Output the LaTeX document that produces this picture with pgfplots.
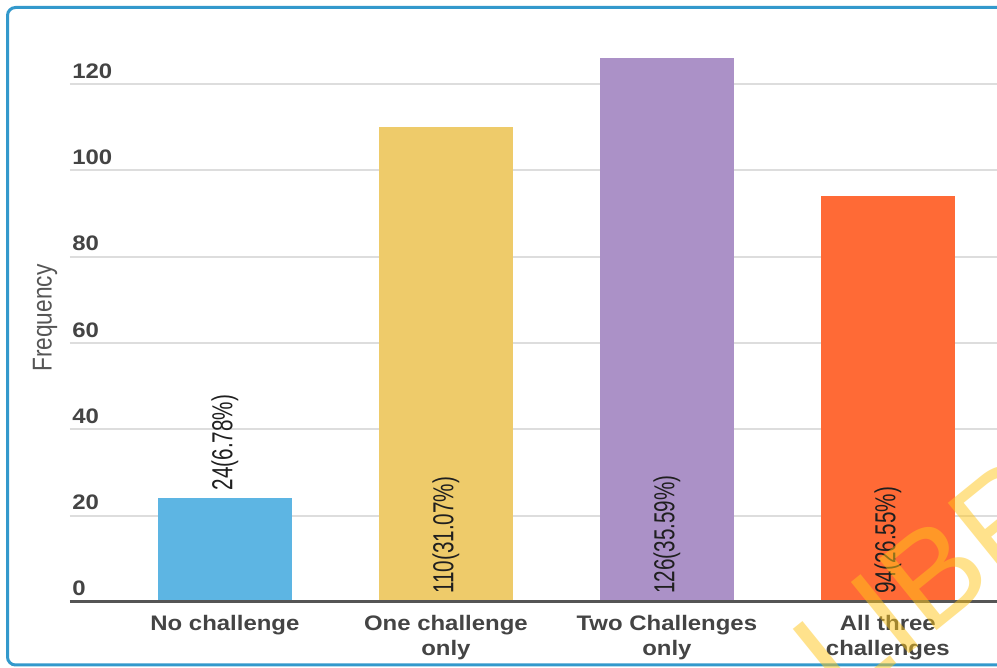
\documentclass[border=0pt]{standalone}
\usepackage{pgfplots}
\pgfplotsset{compat=1.18}
\usepackage{fontspec}
\setmainfont{Liberation Sans}
\newfontfamily\widef[FakeStretch=1.14]{Liberation Sans}
\definecolor{bordc}{HTML}{3399CC}
\definecolor{gridc}{HTML}{DDDDDD}
\definecolor{axc}{HTML}{555555}
\definecolor{txc}{HTML}{444444}
\definecolor{cA}{HTML}{5DB5E3}
\definecolor{cB}{HTML}{EECB6A}
\definecolor{cC}{HTML}{AB91C7}
\definecolor{cD}{HTML}{FF6A36}
\definecolor{wmc}{HTML}{FFC61A}
\begin{document}
\begin{tikzpicture}[x=0.75pt,y=0.75pt]
\useasboundingbox (0,0) rectangle (997,668);
\clip (0,0) rectangle (997,668);
\fill[white] (0,0) rectangle (997,668);
\draw[bordc, line width=2.25pt, rounded corners=6pt] (7.5,3) rectangle (1030,660.5);
\begin{axis}[
  at={(52.5pt,49.5pt)}, anchor=south west, scale only axis,
  width=695.25pt, height=420.75pt,
  xmin=-0.701, xmax=3.494, ymin=0, ymax=130,
  axis line style={draw=none},
  major tick length=0pt,
  ymajorgrids,
  grid style={draw=gridc, line width=1.5pt},
  ytick={0,20,40,60,80,100,120},
  yticklabels={0,20,40,60,80,100,120},
  yticklabel style={anchor=base west, inner sep=0pt, xshift=1.5pt, yshift=4.5pt,
     font=\widef\bfseries\fontsize{15.75}{18}\selectfont, text=txc},
  xtick={0,1,2,3},
  xticklabels={No challenge, One challenge\\only, Two Challenges\\only, All three\\challenges},
  xticklabel style={anchor=north, inner sep=0pt, yshift=-10pt, align=center,
     font=\widef\bfseries\fontsize{15.75}{18.75}\selectfont, text=txc},
  ylabel={\scalebox{1}[1.2]{Frequency}},
  ylabel style={at={(axis description cs:-0.027,0.506)}, anchor=center,
     font=\fontsize{17}{19}\selectfont, text=axc},
  clip=false,
]
\addplot[ybar, bar width=100.5pt, bar shift=0pt, fill=cA, draw=none] coordinates {(0,24)};
\addplot[ybar, bar width=100.5pt, bar shift=0pt, fill=cB, draw=none] coordinates {(1,110)};
\addplot[ybar, bar width=100.5pt, bar shift=0pt, fill=cC, draw=none] coordinates {(2,126)};
\addplot[ybar, bar width=100.5pt, bar shift=0pt, fill=cD, draw=none] coordinates {(3,94)};
\addplot[only marks, mark=none, point meta=explicit symbolic,
  nodes near coords={\scalebox{1}[1.4]{\pgfplotspointmeta}},
  every node near coord/.style={rotate=90, anchor=west, inner xsep=6pt, inner ysep=0pt,
     font=\fontsize{15.5}{18}\selectfont, text=black!88}]
  coordinates {(0,24) [24(6.78\%)] (1,0) [110(31.07\%)] (2,0) [126(35.59\%)] (3,0) [94(26.55\%)]};
\draw[axc, line width=2.25pt] (rel axis cs:0,0) -- (rel axis cs:1,0);
\end{axis}
\node[rotate=39, anchor=base west, text=wmc, opacity=0.5, inner sep=0pt,
  font=\fontsize{100}{100}\selectfont] at (842,-40) {LIBRARY};
\end{tikzpicture}
\end{document}
